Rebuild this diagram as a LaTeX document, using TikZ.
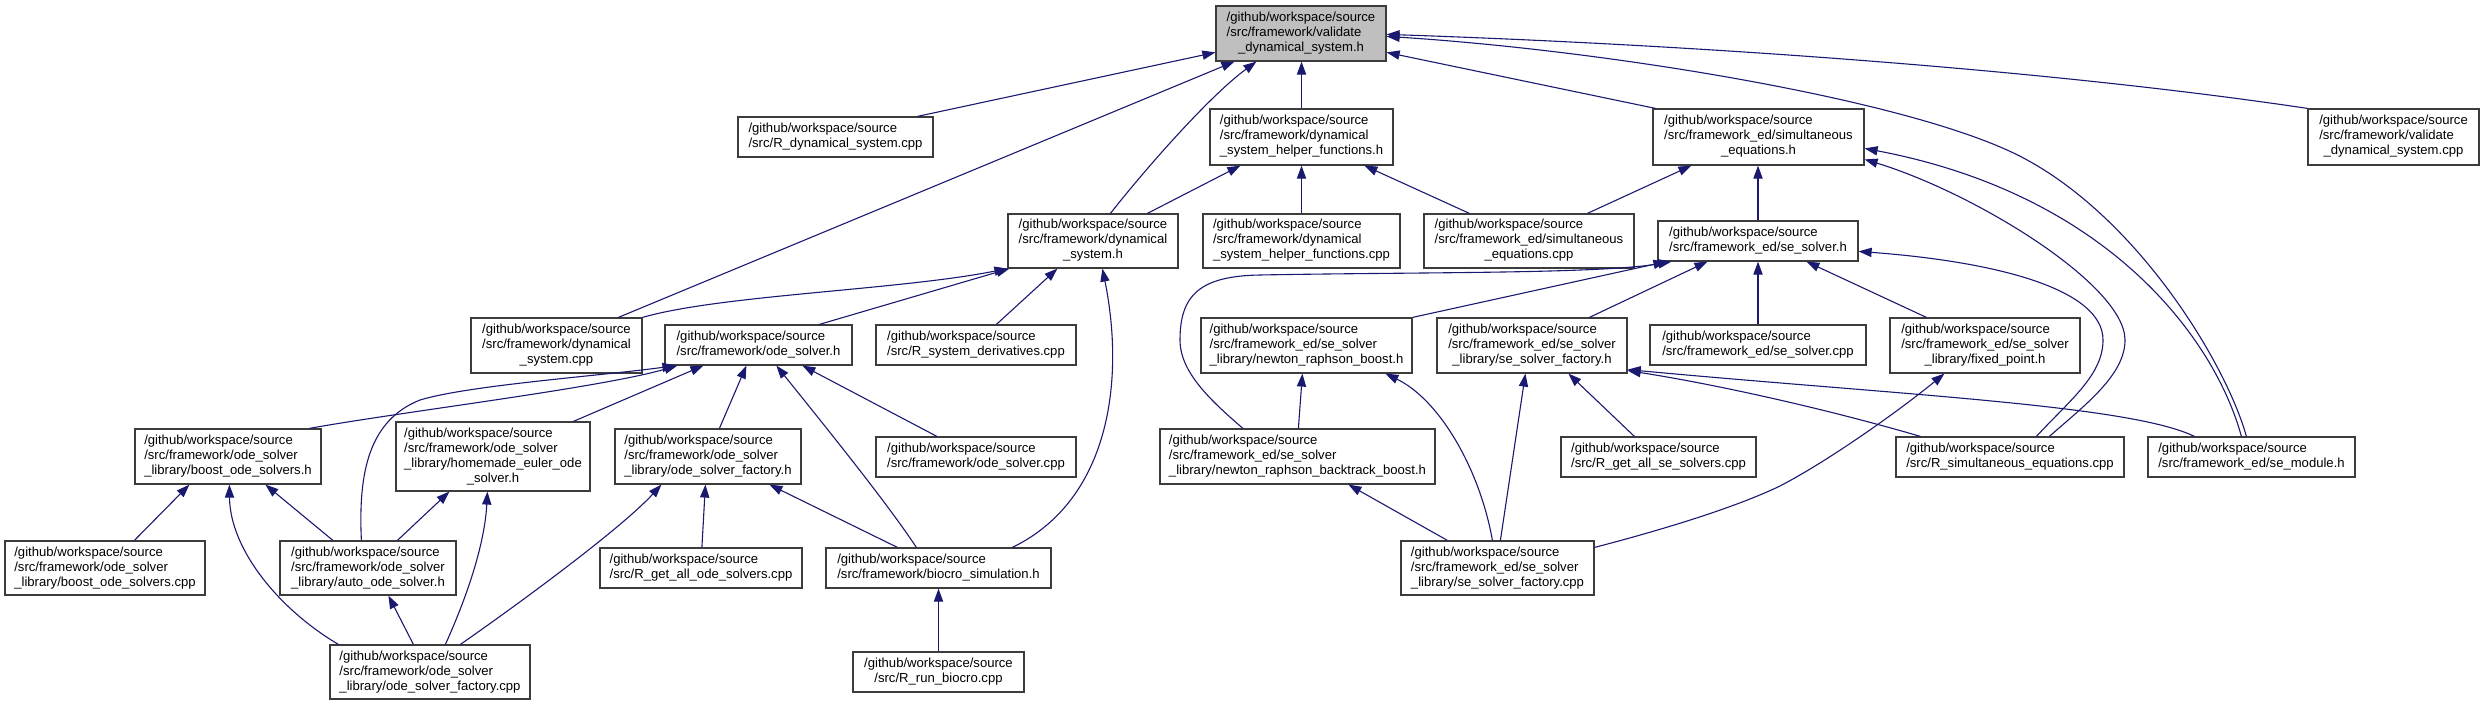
\documentclass[tikz,border=0pt]{standalone}
\usepackage{fontspec}
\setmainfont{Liberation Sans}
\usetikzlibrary{arrows.meta,calc}
\definecolor{edgecol}{RGB}{25,25,112}
\definecolor{boxline}{RGB}{60,60,60}
\definecolor{rootfill}{RGB}{191,191,191}
\newcommand{\lbltwo}[2]{\begin{tabular}{@{}l@{}}#1\\\multicolumn{1}{@{}c@{}}{#2}\end{tabular}}
\newcommand{\lblthree}[3]{\begin{tabular}{@{}l@{}}#1\\#2\\\multicolumn{1}{@{}c@{}}{#3}\end{tabular}}
\newcommand{\lblfour}[4]{\begin{tabular}{@{}l@{}}#1\\#2\\#3\\\multicolumn{1}{@{}c@{}}{#4}\end{tabular}}
\newcommand{\gws}{/github/workspace/source}
\begin{document}
\begin{tikzpicture}[x=0.5pt,y=-0.5pt,
  box/.style={draw=boxline, line width=0.6pt, fill=white, inner sep=0pt,
    font=\fontsize{6.55}{7.5}\selectfont},
  root/.style={box, fill=rootfill},
  edge/.style={draw=edgecol, line width=0.55pt, -{Triangle[length=6.5pt,width=4.6pt]}}]
\useasboundingbox (0,0) rectangle (2484,705);

% ---------------- nodes ----------------
\node[root, minimum width=85pt, minimum height=27.5pt] (V) at (1301,33.5)
  {\lblthree{\gws}{/src/framework/validate}{\_dynamical\_system.h}};
\node[box, minimum width=97.5pt, minimum height=20pt] (rdyn) at (835.5,137)
  {\lbltwo{\gws}{/src/R\_dynamical\_system.cpp}};
\node[box, minimum width=91.5pt, minimum height=28pt] (hh) at (1301.5,137)
  {\lblthree{\gws}{/src/framework/dynamical}{\_system\_helper\_functions.h}};
\node[box, minimum width=105.5pt, minimum height=28pt] (seh) at (1758.5,137)
  {\lblthree{\gws}{/src/framework\_ed/simultaneous}{\_equations.h}};
\node[box, minimum width=85.5pt, minimum height=28pt] (vdc) at (2393.5,137)
  {\lblthree{\gws}{/src/framework/validate}{\_dynamical\_system.cpp}};
\node[box, minimum width=85pt, minimum height=27pt] (dh) at (1093,241)
  {\lblthree{\gws}{/src/framework/dynamical}{\_system.h}};
\node[box, minimum width=98.5pt, minimum height=27pt] (hfc) at (1301.5,241)
  {\lblthree{\gws}{/src/framework/dynamical}{\_system\_helper\_functions.cpp}};
\node[box, minimum width=105pt, minimum height=27pt] (sec) at (1529,241)
  {\lblthree{\gws}{/src/framework\_ed/simultaneous}{\_equations.cpp}};
\node[box, minimum width=100pt, minimum height=20pt] (ssh) at (1758,241)
  {\lbltwo{\gws}{/src/framework\_ed/se\_solver.h}};
\node[box, minimum width=85.5pt, minimum height=27.5pt] (dc) at (556.5,345.5)
  {\lblthree{\gws}{/src/framework/dynamical}{\_system.cpp}};
\node[box, minimum width=93.5pt, minimum height=20pt] (osh) at (758.5,345)
  {\lbltwo{\gws}{/src/framework/ode\_solver.h}};
\node[box, minimum width=100pt, minimum height=20pt] (rsd) at (976,345)
  {\lbltwo{\gws}{/src/R\_system\_derivatives.cpp}};
\node[box, minimum width=105.5pt, minimum height=27.5pt] (nrb) at (1306.5,345.5)
  {\lblthree{\gws}{/src/framework\_ed/se\_solver}{\_library/newton\_raphson\_boost.h}};
\node[box, minimum width=95pt, minimum height=27.5pt] (ssfh) at (1532,345.5)
  {\lblthree{\gws}{/src/framework\_ed/se\_solver}{\_library/se\_solver\_factory.h}};
\node[box, minimum width=108pt, minimum height=20pt] (sscpp) at (1758,345)
  {\lbltwo{\gws}{/src/framework\_ed/se\_solver.cpp}};
\node[box, minimum width=95pt, minimum height=27.5pt] (fp) at (1985,345.5)
  {\lblthree{\gws}{/src/framework\_ed/se\_solver}{\_library/fixed\_point.h}};
\node[box, minimum width=93pt, minimum height=27.5pt] (bosh) at (228,456.5)
  {\lblthree{\gws}{/src/framework/ode\_solver}{\_library/boost\_ode\_solvers.h}};
\node[box, minimum width=97pt, minimum height=34.5pt] (heos) at (493,456.5)
  {\lblfour{\gws}{/src/framework/ode\_solver}{\_library/homemade\_euler\_ode}{\_solver.h}};
\node[box, minimum width=93pt, minimum height=27.5pt] (osfh) at (708,456.5)
  {\lblthree{\gws}{/src/framework/ode\_solver}{\_library/ode\_solver\_factory.h}};
\node[box, minimum width=100pt, minimum height=20pt] (oscpp) at (976,457)
  {\lbltwo{\gws}{/src/framework/ode\_solver.cpp}};
\node[box, minimum width=137.5pt, minimum height=27.5pt] (nrbb) at (1297.5,456.5)
  {\lblthree{\gws}{/src/framework\_ed/se\_solver}{\_library/newton\_raphson\_backtrack\_boost.h}};
\node[box, minimum width=97.5pt, minimum height=20pt] (rgas) at (1658.5,457)
  {\lbltwo{\gws}{/src/R\_get\_all\_se\_solvers.cpp}};
\node[box, minimum width=114pt, minimum height=20pt] (rse) at (2010,457)
  {\lbltwo{\gws}{/src/R\_simultaneous\_equations.cpp}};
\node[box, minimum width=103.5pt, minimum height=20pt] (sem) at (2251.5,457)
  {\lbltwo{\gws}{/src/framework\_ed/se\_module.h}};
\node[box, minimum width=100pt, minimum height=27pt] (boscpp) at (105,568)
  {\lblthree{\gws}{/src/framework/ode\_solver}{\_library/boost\_ode\_solvers.cpp}};
\node[box, minimum width=88pt, minimum height=27pt] (aos) at (368,568)
  {\lblthree{\gws}{/src/framework/ode\_solver}{\_library/auto\_ode\_solver.h}};
\node[box, minimum width=101pt, minimum height=20pt] (rgao) at (701,568)
  {\lbltwo{\gws}{/src/R\_get\_all\_ode\_solvers.cpp}};
\node[box, minimum width=112.5pt, minimum height=20pt] (bs) at (938.5,568)
  {\lbltwo{\gws}{/src/framework/biocro\_simulation.h}};
\node[box, minimum width=96.5pt, minimum height=27pt] (ssfcpp) at (1497.5,568)
  {\lblthree{\gws}{/src/framework\_ed/se\_solver}{\_library/se\_solver\_factory.cpp}};
\node[box, minimum width=100pt, minimum height=27pt] (osfcpp) at (430,672)
  {\lblthree{\gws}{/src/framework/ode\_solver}{\_library/ode\_solver\_factory.cpp}};
\node[box, minimum width=85.5pt, minimum height=20pt] (rrb) at (938.5,672)
  {\lbltwo{\gws}{/src/R\_run\_biocro.cpp}};

% ---------------- edges ----------------
% into V
\draw[edge] ($(rdyn.north west)+(180,0)$) -- ($(V.north west)+(0,47)$);
\draw[edge] ($(dc.north west)+(148,0)$) -- ($(V.south west)+(19,0)$);
\draw[edge] ($(dh.north west)+(103,0)$) .. controls (1151,162) and (1212,94) .. ($(V.south west)+(41,0)$);
\draw[edge] (hh.north) -- (hh.north |- V.south);
\draw[edge] ($(seh.north west)+(3,0)$) -- ($(V.north east)+(0,47)$);
\draw[edge] (vdc.north west) .. controls (2050,70) and (1700,45) .. ($(V.north east)+(0,29)$);
\draw[edge] ($(sem.north west)+(99,0)$) .. controls (2225,360) and (2130,205) .. (2007,150)
  .. controls (1887,96) and (1600,50) .. ($(V.north east)+(0,31)$);
% into dh
\draw[edge] (dc.north east) .. controls (720,295) and (900,290) .. (dh.south west);
\draw[edge] ($(osh.north west)+(155,0)$) -- ($(dh.south west)+(2,0)$);
\draw[edge] ($(rsd.north west)+(121,0)$) -- ($(dh.south west)+(50,0)$);
\draw[edge] ($(bs.north west)+(187,0)$) .. controls (1110,500) and (1125,380) .. ($(dh.south west)+(95,0)$);
% into hh
\draw[edge] ($(dh.north west)+(140,0)$) -- ($(hh.south west)+(31,0)$);
\draw[edge] (hfc.north) -- (hh.south);
\draw[edge] ($(sec.north west)+(46,0)$) -- ($(hh.south west)+(155,0)$);
% into seh
\draw[edge] ($(sec.north west)+(164,0)$) -- ($(seh.south west)+(39,0)$);
\draw[edge] (ssh.north) -- (ssh.north |- seh.south);
\draw[edge] ($(rse.north west)+(154,0)$) .. controls (2085,405) and (2125,375) .. (2125,340)
  .. controls (2125,285) and (1975,193) .. ($(seh.north east)+(0,51)$);
\draw[edge] ($(sem.north west)+(94,0)$) .. controls (2215,340) and (2110,195) .. ($(seh.north east)+(0,40)$);
% into ssh
\draw[edge] (nrb.north east) -- ($(ssh.south west)+(9,0)$);
\draw[edge] ($(nrbb.north west)+(83.5,0)$) .. controls (1210,400) and (1180,372) .. (1180,340)
  .. controls (1180,295) and (1200,276) .. (1260,275)
  .. controls (1420,272) and (1600,274) .. ($(ssh.south west)+(14,0)$);
\draw[edge] ($(ssfh.north west)+(153,0)$) -- ($(ssh.south west)+(50,0)$);
\draw[edge] (sscpp.north) -- (sscpp.north |- ssh.south);
\draw[edge] ($(fp.north west)+(37,0)$) -- ($(ssh.south west)+(149,0)$);
\draw[edge] ($(rse.north west)+(141,0)$) .. controls (2070,400) and (2103,375) .. (2103,340)
  .. controls (2103,290) and (2000,262) .. ($(ssh.north east)+(0,31)$);
% into osh
\draw[edge] ($(bosh.north west)+(175,0)$) .. controls (400,412) and (600,388) .. ($(osh.south west)+(13,0)$);
\draw[edge] ($(aos.north west)+(82,0)$) .. controls (358,470) and (370,420) .. (420,400)
  .. controls (470,385) and (600,376) .. ($(osh.south west)+(11,0)$);
\draw[edge] ($(heos.north west)+(178,0)$) -- ($(osh.south west)+(39,0)$);
\draw[edge] ($(osfh.north west)+(105,0)$) -- ($(osh.south west)+(82,0)$);
\draw[edge] ($(bs.north west)+(91,0)$) .. controls (885,500) and (820,420) .. ($(osh.south west)+(112,0)$);
\draw[edge] ($(oscpp.north west)+(61.5,0)$) -- ($(osh.south west)+(138,0)$);
% into bosh
\draw[edge] ($(boscpp.north west)+(130,0)$) -- ($(bosh.south west)+(55,0)$);
\draw[edge] ($(osfcpp.north west)+(9,0)$) .. controls (280,610) and (230,550) .. ($(bosh.south west)+(95,0)$);
\draw[edge] ($(aos.north west)+(53.5,0)$) -- ($(bosh.south west)+(131,0)$);
% into heos
\draw[edge] ($(aos.north west)+(118,0)$) -- ($(heos.south west)+(54,0)$);
\draw[edge] ($(osfcpp.north west)+(116,0)$) .. controls (470,590) and (485,540) .. ($(heos.south west)+(92,0)$);
% into aos
\draw[edge] ($(osfcpp.north west)+(84,0)$) -- ($(aos.south west)+(109,0)$);
% into osfh
\draw[edge] ($(osfcpp.north west)+(131,0)$) .. controls (510,610) and (620,530) .. ($(osfh.south west)+(47,0)$);
\draw[edge] ($(rgao.north west)+(102.5,0)$) -- ($(osfh.south west)+(91,0)$);
\draw[edge] ($(bs.north west)+(72,0)$) -- ($(osfh.south west)+(155,0)$);
% into bs
\draw[edge] (rrb.north) -- (bs.south);
% into nrb
\draw[edge] ($(nrbb.north west)+(139,0)$) -- ($(nrb.south west)+(102,0)$);
\draw[edge] ($(ssfcpp.north west)+(92,0)$) .. controls (1480,470) and (1440,400) .. ($(nrb.south west)+(185,0)$);
% into ssfh
\draw[edge] ($(ssfcpp.north west)+(100,0)$) -- ($(ssfh.south west)+(89,0)$);
\draw[edge] ($(rgas.north west)+(74,0)$) -- ($(ssfh.south west)+(132,0)$);
\draw[edge] ($(rse.north west)+(25,0)$) .. controls (1830,410) and (1720,385) .. ($(ssfh.south east)+(0,-3)$);
\draw[edge] ($(sem.north west)+(47,0)$) .. controls (2130,405) and (1900,395) .. ($(ssfh.south east)+(0,-4)$);
% into nrbb
\draw[edge] ($(ssfcpp.north west)+(47,0)$) -- ($(nrbb.south west)+(189,0)$);
% into fp
\draw[edge] ($(ssfcpp.north east)+(0,7)$) .. controls (1650,533) and (1730,510) .. (1780,486)
  .. controls (1830,460) and (1900,410) .. ($(fp.south west)+(55,0)$);
\end{tikzpicture}
\end{document}
